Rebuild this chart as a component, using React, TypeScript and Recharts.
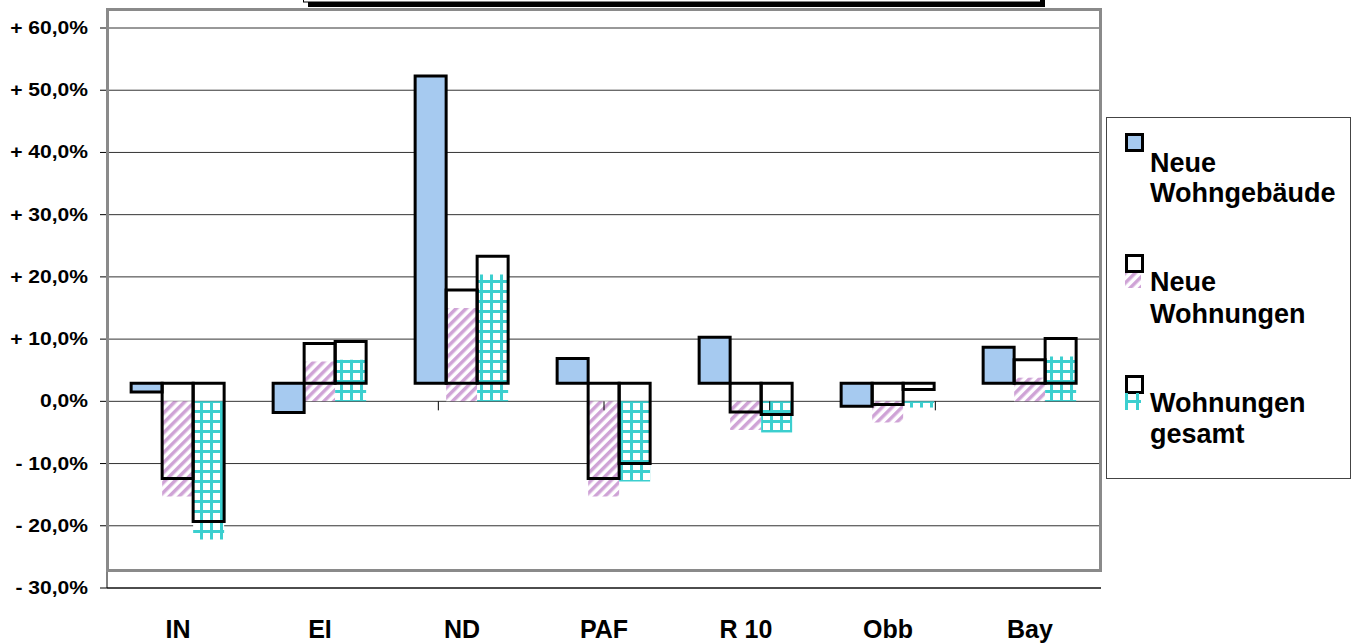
import { BarChart, Bar, XAxis, YAxis, CartesianGrid, ReferenceLine } from "recharts";

const categories = ["IN", "EI", "ND", "PAF", "R 10", "Obb", "Bay"];
const neueWohngebaeude = [-1.4, -4.7, 49.4, 4.0, 7.4, -3.7, 5.8];
const neueWohnungen = [-15.3, 6.4, 15.0, -15.3, -4.6, -3.4, 3.8];
const wohnungenGesamt = [-22.2, 6.7, 20.4, -12.9, -5.0, -1.0, 7.2];
const yTicks = [-30, -20, -10, 0, 10, 20, 30, 40, 50, 60];
const boundaryTicks = [1, 2, 3, 4, 5, 6, 7];

// the outline boxes sit a bit above the filled bars (old excel look)
const SHIFT = 2.9;

const BLUE = "#A6CAF0";
const PINK = "#CFA3D6";
const TEAL = "#3CCFCF";
const FONT = "'Liberation Sans', Arial, sans-serif";

const rows = categories.map((name, i) => ({
  name,
  geb: neueWohngebaeude[i],
  wohn: neueWohnungen[i],
  ges: wohnungenGesamt[i],
}));

function fmt(v: number) {
  const s = Math.abs(v).toFixed(1).replace(".", ",") + "%";
  if (v > 0) return "+ " + s;
  if (v < 0) return "- " + s;
  return s;
}

function YTick({ x, y, payload }: any) {
  // labels in the original are a bit wider than plain Arial
  return (
    <text
      transform={`translate(${x},${y}) scale(1.17,1)`}
      x={0}
      y={0}
      dy={6}
      textAnchor="end"
      fontFamily={FONT}
      fontWeight="bold"
      fontSize={18}
      fill="#000"
    >
      {fmt(payload.value)}
    </text>
  );
}

function XTick({ x, y, payload }: any) {
  return (
    <text x={x} y={y + 50} textAnchor="middle" fontFamily={FONT} fontWeight="bold" fontSize={25} fill="#000">
      {payload.value}
    </text>
  );
}

const legendText = { fontFamily: FONT, fontWeight: "bold" as const, fontSize: 27, fill: "#000" };

export default function App() {
  return (
    <div style={{ position: "absolute", left: 0, top: 0, width: 1358, height: 643, background: "#fff" }}>
      <BarChart
        width={1358}
        height={643}
        data={rows}
        margin={{ top: 28, right: 257, bottom: 0, left: 7 }}
        barCategoryGap="17%"
        barGap={0}
      >
        <CartesianGrid vertical={false} stroke="#333" />
        <XAxis
          xAxisId="a"
          dataKey="name"
          height={55}
          tickLine={false}
          tickSize={0}
          tickMargin={0}
          axisLine={{ stroke: "#000" }}
          tick={<XTick />}
          interval={0}
        />
        <XAxis xAxisId="b" dataKey="name" hide />
        <XAxis xAxisId="n" type="number" domain={[0, 7]} allowDataOverflow hide />
        <YAxis
          width={100}
          domain={[-30, 60]}
          ticks={yTicks}
          allowDataOverflow
          tickSize={7}
          tickMargin={12}
          tickLine={{ stroke: "#000" }}
          axisLine={{ stroke: "#000" }}
          tick={<YTick />}
        />
        {boundaryTicks.map((b) => (
          <ReferenceLine
            key={b}
            xAxisId="n"
            segment={[
              { x: b, y: 0 },
              { x: b, y: -1.45 },
            ]}
            stroke="#000"
          />
        ))}
        <ReferenceLine xAxisId="n" x={7} stroke="#000" />

        <Bar xAxisId="a" dataKey={(d: any) => [SHIFT, d.geb + SHIFT]} fill={BLUE} isAnimationActive={false} />
        <Bar xAxisId="a" dataKey={(d: any) => [0, d.wohn]} fill="url(#hatchPink)" isAnimationActive={false} />
        <Bar xAxisId="a" dataKey={(d: any) => [0, d.ges]} fill="url(#gridTeal)" isAnimationActive={false} />

        <Bar xAxisId="b" dataKey={(d: any) => [SHIFT, d.geb + SHIFT]} fill="none" stroke="#000" strokeWidth={3} isAnimationActive={false} />
        <Bar xAxisId="b" dataKey={(d: any) => [SHIFT, d.wohn + SHIFT]} fill="none" stroke="#000" strokeWidth={3} isAnimationActive={false} />
        <Bar xAxisId="b" dataKey={(d: any) => [SHIFT, d.ges + SHIFT]} fill="none" stroke="#000" strokeWidth={3} isAnimationActive={false} />
      </BarChart>

      <svg
        width={1358}
        height={643}
        style={{ position: "absolute", left: 0, top: 0, pointerEvents: "none" }}
      >
        <defs>
          <pattern id="hatchPink" patternUnits="userSpaceOnUse" width={7} height={7} patternTransform="rotate(45)">
            <rect x={0} y={0} width={7} height={7} fill="#fff" />
            <rect x={0} y={0} width={3.5} height={7} fill={PINK} />
          </pattern>
          <pattern id="gridTeal" patternUnits="userSpaceOnUse" width={10} height={10}>
            <rect x={0} y={0} width={10} height={10} fill={TEAL} />
            <rect x={3} y={3} width={7} height={7} fill="#fff" />
          </pattern>
        </defs>

        {/* title box, mostly above the page */}
        <rect x={308} y={-20} width={737} height={27} fill="#000" />
        <rect x={303.5} y={-24} width={737} height={26} fill="#fff" stroke="#000" />

        {/* grey frame */}
        <rect x={107.5} y={9.5} width={993} height={561} fill="none" stroke="#8a8a8a" strokeWidth={3} />

        {/* legend */}
        <rect x={1106.5} y={117.5} width={244} height={361} fill="#fff" stroke="#444" />
        <rect x={1126.5} y={134.5} width={16} height={16} fill={BLUE} stroke="#000" strokeWidth={3} />
        <text x={1150} y={172} {...legendText}>Neue</text>
        <text x={1150} y={202} {...legendText}>Wohngebäude</text>

        <rect x={1126.5} y={255.5} width={16} height={16} fill="#fff" stroke="#000" strokeWidth={3} />
        <rect x={1125} y={273} width={16} height={15} fill="url(#hatchPink)" />
        <text x={1150} y={291} {...legendText}>Neue</text>
        <text x={1150} y={323} {...legendText}>Wohnungen</text>

        <rect x={1126.5} y={376.5} width={16} height={16} fill="#fff" stroke="#000" strokeWidth={3} />
        <line x1={1126.5} y1={393} x2={1126.5} y2={410} stroke={TEAL} strokeWidth={3} />
        <line x1={1137.5} y1={393} x2={1137.5} y2={410} stroke={TEAL} strokeWidth={3} />
        <line x1={1125} y1={401.5} x2={1141} y2={401.5} stroke={TEAL} strokeWidth={3} />
        <text x={1150} y={412} {...legendText}>Wohnungen</text>
        <text x={1150} y={443} {...legendText}>gesamt</text>
      </svg>
    </div>
  );
}
